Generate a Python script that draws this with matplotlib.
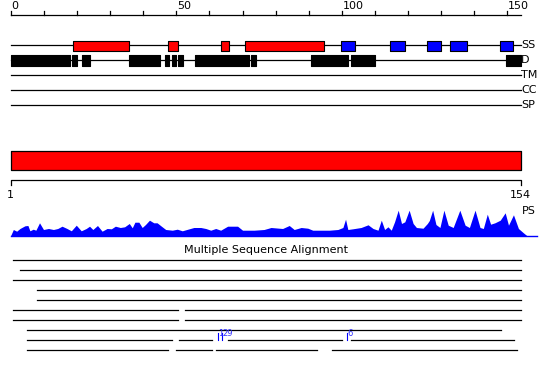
import matplotlib
matplotlib.use("Agg")
import matplotlib.pyplot as plt

# sequence length and feature tracks (residue coordinates)
seq_len = 154
track_names = ["SS", "D", "TM", "CC", "SP"]

ss_helix = [(18.7, 35.8), (47.6, 50.6), (63.6, 65.8), (70.8, 94.7)]
ss_strand = [(99.8, 103.9), (114.6, 119.0), (125.7, 129.8), (132.7, 137.9), (147.8, 151.8)]
disorder = [(0, 17.9), (18.5, 20.0), (21.5, 23.9), (35.7, 45.1), (46.5, 47.9), (48.7, 50.0),
            (50.4, 52.0), (55.6, 71.9), (72.5, 74.1), (90.7, 101.8), (102.7, 109.9), (149.5, 154)]

domain = [(0, 154)]

# PS profile (position, score)
ps_pos = [0, 0.8, 1.8, 2.8, 4.3, 5.2, 5.8, 6.8, 7.6, 8.7, 9.9, 11.4, 12.9, 14.2, 15.5, 17.0,
          18.3, 19.8, 21.3, 22.8, 23.8, 24.8, 26.2, 27.6, 29.1, 30.4, 31.6, 33.1, 34.4, 35.8,
          36.7, 37.5, 38.7, 39.7, 40.7, 41.9, 43.2, 44.2, 45.5, 46.8, 48.8, 50.3, 51.8, 55.3,
          57.4, 58.9, 60.4, 61.9, 63.4, 65.5, 68.5, 70.0, 73.5, 76.5, 78.6, 82.1, 84.1, 85.6,
          87.7, 89.7, 91.2, 96.2, 98.8, 100.3, 101.1, 101.8, 103.3, 105.8, 107.9, 109.4, 110.9,
          111.9, 112.9, 113.9, 114.9, 115.9, 117.0, 118.0, 119.0, 120.3, 121.5, 122.5, 124.5,
          125.8, 126.4, 127.4, 128.4, 129.6, 130.8, 132.1, 133.6, 135.6, 137.2, 138.5, 140.2,
          141.7, 142.7, 143.9, 144.9, 146.2, 147.8, 149.3, 150.3, 151.8, 153.3, 154.8, 155.8]
ps_val = [0, 6, 4.3, 7, 9.7, 10, 4.7, 6.3, 5.3, 12.7, 6, 7, 6, 7, 9.3, 7,
          4.7, 10.3, 4.7, 7, 9.3, 6, 10, 4.3, 7, 6.7, 9.3, 8, 8.7, 12,
          7.7, 13.3, 13.3, 8, 11, 15.3, 12.7, 12.7, 9.3, 6, 5.3, 6.3, 4.7, 8,
          8, 7, 5.3, 7, 5.3, 9.3, 9.3, 5.3, 5.3, 6, 8, 7, 10, 6,
          8, 7.3, 5.3, 5.3, 6, 8, 16.3, 6, 6.7, 8, 10.7, 7, 5.3,
          15.3, 6, 8.7, 5.3, 13.7, 25.3, 12, 13.7, 25.3, 12, 8, 7.3,
          12, 15, 25.3, 11, 8, 25.3, 10.3, 8, 25.3, 10.3, 8, 25.3,
          8, 7, 21.3, 11.3, 12.7, 15.3, 22.7, 10.3, 20.7, 7, 2.7, 0]
ps_end = 158.8

# multiple sequence alignment rows: aligned segments
msa_rows = [
    [(0.8, 154)],
    [(2.8, 154)],
    [(0.8, 154)],
    [(7.9, 154)],
    [(7.9, 154)],
    [(0.8, 50.6), (52.6, 154)],
    [(0.8, 50.6), (52.6, 154)],
    [(4.8, 147.9)],
    [(4.8, 48.8), (50.8, 60.8), (65.7, 99.9), (102.7, 151.9)],
    [(4.8, 47.6), (49.8, 60.9), (61.9, 92.6), (96.9, 152.8)],
]
# insertions: (row, position, label)
msa_inserts = [(8, 62.5, "1"), (8, 63.9, "29"), (8, 101.4, "6")]

# --- layout (pixels) ---
W, H = 550, 380
PX = 3.312       # pixels per residue
X0 = 10.7        # pixel of residue 0

fig = plt.figure(figsize=(W / 100, H / 100), dpi=100)
ax = fig.add_axes([0, 0, 1, 1])
ax.set_xlim(-X0 / PX, (W - X0) / PX)
ax.set_ylim(H, 0)
ax.axis("off")

fs = 8
lw = 0.9

# top ruler
ax.plot([0, seq_len], [15, 15], color="black", lw=lw)
for t in range(0, seq_len + 1, 10):
    ax.plot([t, t], [15, 10.5], color="black", lw=lw)
for t in range(0, seq_len + 1, 50):
    ax.text(t + 0.2, 6, str(t), fontsize=fs, ha="left", va="center")

# tracks
track_y = [45, 60, 75, 90, 105]
for name, y in zip(track_names, track_y):
    ax.plot([0, seq_len], [y, y], color="black", lw=lw, zorder=1)
    ax.text(seq_len + 0.1, y, name, fontsize=fs, ha="left", va="center")

ax.broken_barh([(s, e - s) for s, e in ss_helix], (40.5, 10), facecolors="red",
               edgecolors="black", lw=0.8, zorder=2)
ax.broken_barh([(s, e - s) for s, e in ss_strand], (40.5, 10), facecolors="blue",
               edgecolors="black", lw=0.8, zorder=2)
ax.broken_barh([(s, e - s) for s, e in disorder], (55, 11), facecolors="black",
               edgecolors="black", lw=0.8, zorder=2)

# domain bar
ax.broken_barh([(s, e - s) for s, e in domain], (150.7, 19.6), facecolors="red",
               edgecolors="black", lw=0.9)

# bottom ruler
ax.plot([0, 0, seq_len, seq_len], [185, 180.3, 180.3, 185], color="black", lw=lw)
ax.text(0, 195, "1", fontsize=fs, ha="center", va="center")
ax.text(seq_len, 195, str(seq_len), fontsize=fs, ha="center", va="center")
ax.text(seq_len + 0.4, 210.5, "PS", fontsize=fs, ha="left", va="center")

# PS profile
base = 235.5
ax.fill_between(ps_pos, base, [base - v for v in ps_val], color="blue", lw=0)
ax.plot([0, ps_end], [base, base], color="blue", lw=1)

# alignment
ax.text(seq_len / 2, 250, "Multiple Sequence Alignment", fontsize=fs, ha="center", va="center")
for i, row in enumerate(msa_rows):
    y = 260 + 10 * i
    for s, e in row:
        ax.plot([s, e], [y, y], color="black", lw=lw)
for r, pos, lab in msa_inserts:
    y = 260 + 10 * r
    ax.plot([pos, pos], [y, y - 7], color="blue", lw=0.8)
    ax.text(pos + 0.15, y - 2, lab, fontsize=6, color="#3030ff", ha="left", va="bottom")

fig.savefig("out.png", dpi=100)
